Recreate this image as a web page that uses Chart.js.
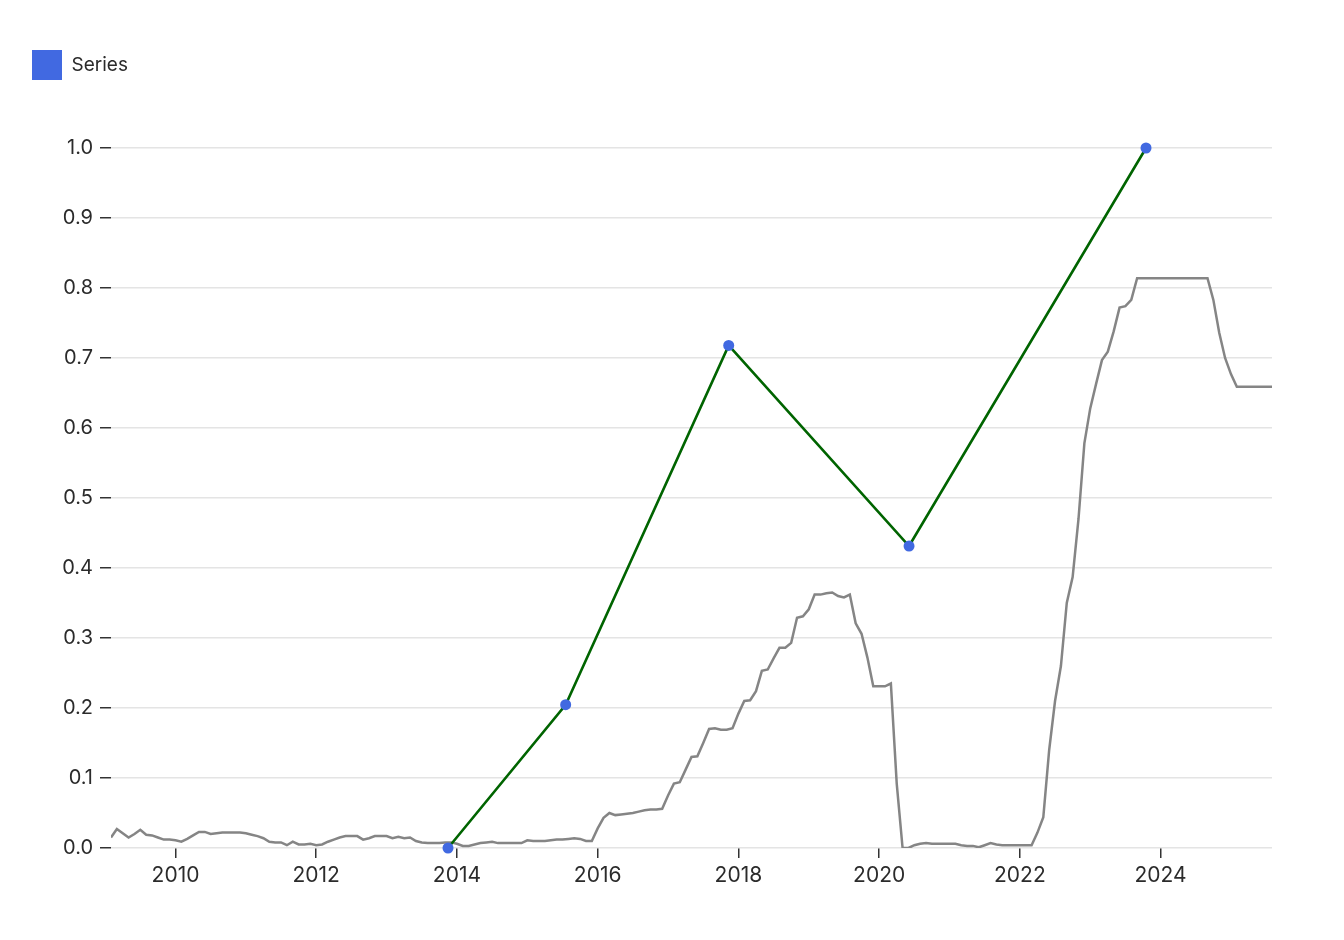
<!DOCTYPE html>
<html>
<head>
<meta charset="utf-8">
<script src="https://cdn.jsdelivr.net/npm/chart.js@4/dist/chart.umd.min.js"></script>
<style>
  html, body { margin: 0; padding: 0; background: #fff; }
  #wrap { width: 1344px; height: 940px; }
</style>
</head>
<body>
<div id="wrap"><canvas id="chart"></canvas></div>
<script>
// monthly grey series, starting Feb 2009
const greyStartYear = 2009;
const greyStartMonth = 1; // 0 = Jan
const greyValues = [
  0.015, 0.027, 0.021, 0.015, 0.020, 0.026, 0.019, 0.018, 0.015, 0.012, 0.012, 0.011,
  0.009, 0.013, 0.018, 0.023, 0.023, 0.020, 0.021, 0.022, 0.022, 0.022, 0.022, 0.021,
  0.019, 0.017, 0.014, 0.009, 0.008, 0.008, 0.004, 0.009, 0.005, 0.005, 0.006, 0.004,
  0.005, 0.009, 0.012, 0.015, 0.017, 0.017, 0.017, 0.012, 0.014, 0.017, 0.017, 0.017,
  0.014, 0.016, 0.014, 0.015, 0.010, 0.008, 0.007, 0.007, 0.007, 0.008, 0.008, 0.006,
  0.003, 0.003, 0.005, 0.007, 0.008, 0.009, 0.007, 0.007, 0.007, 0.007, 0.007, 0.011,
  0.010, 0.010, 0.010, 0.011, 0.012, 0.012, 0.013, 0.014, 0.013, 0.010, 0.010, 0.028,
  0.043, 0.050, 0.047, 0.048, 0.049, 0.050, 0.052, 0.054, 0.055, 0.055, 0.056, 0.075,
  0.092, 0.094, 0.112, 0.130, 0.131, 0.150, 0.170, 0.171, 0.169, 0.169, 0.171, 0.192,
  0.210, 0.211, 0.224, 0.253, 0.255, 0.271, 0.286, 0.286, 0.293, 0.329, 0.331, 0.341,
  0.362, 0.362, 0.364, 0.365, 0.360, 0.358, 0.362, 0.321, 0.306, 0.272, 0.231, 0.231,
  0.231, 0.235, 0.092, 0.000, 0.000, 0.004, 0.006, 0.007, 0.006, 0.006, 0.006, 0.006,
  0.006, 0.004, 0.003, 0.003, 0.001, 0.004, 0.007, 0.005, 0.004, 0.004, 0.004, 0.004,
  0.004, 0.004, 0.022, 0.044, 0.140, 0.210, 0.260, 0.350, 0.387, 0.470, 0.578, 0.628,
  0.663, 0.697, 0.709, 0.738, 0.772, 0.774, 0.783, 0.814, 0.814, 0.814, 0.814, 0.814,
  0.814, 0.814, 0.814, 0.814, 0.814, 0.814, 0.814, 0.814, 0.783, 0.736, 0.700, 0.677,
  0.659, 0.659, 0.659, 0.659, 0.659, 0.659, 0.659
];

// the "Series" points (decimal years)
const seriesYears = [2013.873, 2015.545, 2017.862, 2020.425, 2023.793];
const seriesValues = [0.0, 0.2047, 0.718, 0.4314, 1.0];

const yearTicks = [2010, 2012, 2014, 2016, 2018, 2020, 2022, 2024];

const greyData = greyValues.map((v, i) => ({
  x: greyStartYear + (greyStartMonth + i) / 12,
  y: v
}));
const seriesData = seriesYears.map((x, i) => ({ x: x, y: seriesValues[i] }));

const FONT = "Inter, 'Noto Sans', sans-serif";
const textColor = "#2b2b2b";

const legendSpace = {
  id: "legendSpace",
  beforeInit(chart) {
    const fit = chart.legend.fit;
    chart.legend.fit = function () {
      fit.bind(chart.legend)();
      this.height += 58;
    };
  }
};

new Chart(document.getElementById("chart"), {
  type: "line",
  data: {
    datasets: [
      {
        label: "Series",
        data: seriesData,
        borderColor: "#006400",
        borderWidth: 2.6,
        backgroundColor: "#4169e1",
        pointBackgroundColor: "#4169e1",
        pointBorderWidth: 0,
        pointRadius: 5.5,
        tension: 0,
        clip: false,
        order: 0
      },
      {
        label: "grey",
        data: greyData,
        borderColor: "#858585",
        borderWidth: 2.5,
        pointRadius: 0,
        tension: 0,
        order: 1
      }
    ]
  },
  options: {
    responsive: true,
    maintainAspectRatio: false,
    animation: false,
    layout: { padding: { left: 22, right: 72, top: 40, bottom: 0 } },
    plugins: {
      tooltip: { enabled: false },
      legend: {
        position: "top",
        align: "start",
        labels: {
          boxWidth: 30,
          boxHeight: 30,
          color: textColor,
          font: { family: FONT, size: 19 },
          generateLabels: () => [{
            text: "Series",
            fillStyle: "#4169e1",
            strokeStyle: "#4169e1",
            lineWidth: 0,
            fontColor: textColor,
            datasetIndex: 0
          }]
        }
      }
    },
    scales: {
      x: {
        type: "linear",
        min: greyData[0].x,
        max: greyData[greyData.length - 1].x,
        afterBuildTicks: axis => { axis.ticks = yearTicks.map(v => ({ value: v })); },
        afterFit: axis => { axis.height = 92; },
        border: { display: false },
        grid: {
          drawOnChartArea: false,
          drawTicks: true,
          tickLength: 10,
          tickColor: "#333",
          lineWidth: 1.5
        },
        ticks: {
          color: textColor,
          font: { family: FONT, size: 21 },
          padding: 5,
          maxRotation: 0,
          callback: v => String(v)
        }
      },
      y: {
        min: 0,
        max: 1,
        afterFit: axis => { axis.width = 89; },
        border: { display: false },
        grid: {
          color: "#e4e4e4",
          lineWidth: 1.5,
          drawTicks: true,
          tickLength: 11,
          tickColor: "#333"
        },
        ticks: {
          stepSize: 0.1,
          color: textColor,
          font: { family: FONT, size: 20 },
          padding: 7,
          callback: v => v.toFixed(1)
        }
      }
    }
  },
  plugins: [legendSpace]
});
</script>
</body>
</html>
